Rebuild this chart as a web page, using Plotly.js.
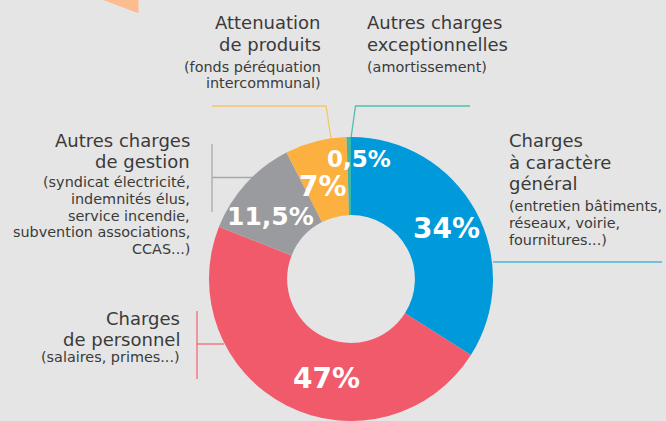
<!DOCTYPE html>
<html>
<head>
<meta charset="utf-8">
<script src="https://cdn.plot.ly/plotly-3.0.1.min.js"></script>
<style>
  html, body { margin: 0; padding: 0; background: #e5e5e5; overflow: hidden; }
  #chart { width: 666px; height: 421px; }
</style>
</head>
<body>
<div id="chart"></div>
<script>
// ---- Data ----
const categories = [
  "Charges à caractère général",
  "Charges de personnel",
  "Autres charges de gestion",
  "Attenuation de produits",
  "Autres charges exceptionnelles"
];
const values = [34, 47, 11.5, 7, 0.5];
const sliceColors = ["#0099da", "#f05a6a", "#9a9b9e", "#fbb040", "#3cb7a8"];
const titleLines = [
  ["Charges", "à caractère", "général"],
  ["Charges", "de personnel"],
  ["Autres charges", "de gestion"],
  ["Attenuation", "de produits"],
  ["Autres charges", "exceptionnelles"]
];
const detailLines = [
  ["(entretien bâtiments,", "réseaux, voirie,", "fournitures...)"],
  ["(salaires, primes...)"],
  ["(syndicat électricité,", "indemnités élus,", "service incendie,", "subvention associations,", "CCAS...)"],
  ["(fonds péréquation", "intercommunal)"],
  ["(amortissement)"]
];

// ---- Layout helpers (pixel -> paper) ----
const W = 666, H = 421;
const px = x => x / W;
const py = y => 1 - y / H;

// label block placement: anchor x, alignment, first title baseline, first detail baseline
const blocks = [
  { x: 507, anchor: "left",  t0: 147,   d0: 210.7 },
  { x: 182, anchor: "right", t0: 324.3, d0: 361.7 },
  { x: 192, anchor: "right", t0: 146.7, d0: 186.7 },
  { x: 323, anchor: "right", t0: 29,    d0: 71.5 },
  { x: 365, anchor: "left",  t0: 29,    d0: 71.5 }
];
// percentage label centres (pixels) and sizes
const pctPos = [[446, 228], [326, 378.5], [270, 216], [323, 187], [359, 159]];
const pctSize = [28, 28, 25, 28, 23];

const textColor = "#3a3a3a";
const titleSize = 18, detailSize = 14.4;
const titleStep = 21.5, detailStep = 16.9;

const annotations = [];
blocks.forEach((b, i) => {
  titleLines[i].forEach((line, k) => {
    const base = b.t0 + k * titleStep;
    annotations.push({
      xref: "paper", yref: "paper", x: px(b.x), y: py(base - 0.346 * titleSize),
      xanchor: b.anchor, yanchor: "middle", showarrow: false, align: b.anchor,
      text: line, font: { family: "DejaVu Sans", size: titleSize, color: textColor }
    });
  });
  detailLines[i].forEach((line, k) => {
    const base = b.d0 + k * detailStep;
    annotations.push({
      xref: "paper", yref: "paper", x: px(b.x), y: py(base - 0.346 * detailSize),
      xanchor: b.anchor, yanchor: "middle", showarrow: false, align: b.anchor,
      text: line, font: { family: "DejaVu Sans", size: detailSize, color: textColor }
    });
  });
});
values.forEach((v, i) => {
  annotations.push({
    xref: "paper", yref: "paper", x: px(pctPos[i][0]), y: py(pctPos[i][1]),
    xanchor: "center", yanchor: "middle", showarrow: false,
    text: String(v).replace(".", ",") + "%",
    font: { family: "DejaVu Sans", size: pctSize[i], color: "#ffffff", weight: "bold" }
  });
});

function pathPx(points) {
  return points.map((p, j) => (j === 0 ? "M " : "L ") + px(p[0]) + "," + py(p[1])).join(" ");
}
const lineDefs = [
  { color: "#4ab3e3", pts: [[493, 262], [662, 262]] },
  { color: "#f06a78", pts: [[197, 311], [197, 379]] },
  { color: "#f06a78", pts: [[197, 344], [224, 344]] },
  { color: "#a9a9a9", pts: [[212, 144], [212, 212]] },
  { color: "#a9a9a9", pts: [[212, 177.5], [253, 177.5]] },
  { color: "#f8c46e", pts: [[212, 106], [326, 106], [331, 138]] },
  { color: "#4dbfb0", pts: [[470, 106], [355.5, 106], [351, 138]] }
];
const shapes = lineDefs.map(d => ({
  type: "path", xref: "paper", yref: "paper", layer: "below",
  path: pathPx(d.pts), line: { color: d.color, width: 1.3 }
}));
shapes.push({
  type: "path", xref: "paper", yref: "paper", layer: "below",
  path: pathPx([[103, 0], [138.5, 0], [138.5, 13.3]]) + " Z",
  fillcolor: "#fdbb90", line: { width: 0 }
});

const cx = 351, cy = 279, r = 142;
const trace = {
  type: "pie",
  labels: categories,
  values: values,
  sort: false,
  direction: "clockwise",
  rotation: 0,
  hole: 0.45,
  textinfo: "none",
  marker: { colors: sliceColors, line: { width: 0 } },
  domain: { x: [px(cx - r), px(cx + r)], y: [py(cy + r), py(cy - r)] },
  showlegend: false,
  hoverinfo: "label+percent"
};

const layout = {
  width: W, height: H,
  margin: { l: 0, r: 0, t: 0, b: 0 },
  paper_bgcolor: "#e5e5e5",
  plot_bgcolor: "#e5e5e5",
  showlegend: false,
  annotations: annotations,
  shapes: shapes
};

Plotly.newPlot("chart", [trace], layout, { displayModeBar: false, staticPlot: true });
</script>
</body>
</html>
